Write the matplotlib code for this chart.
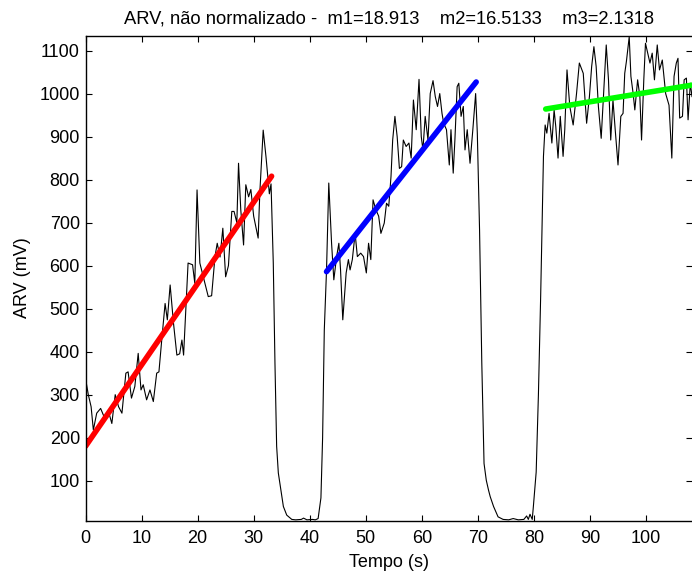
import numpy as np
import matplotlib
matplotlib.use("Agg")
import matplotlib.pyplot as plt

plt.rcParams['font.family'] = ['Liberation Sans', 'DejaVu Sans']

# ---- data ----
time_s = [
    0.0, 0.5, 1.0, 1.4, 2.0, 2.7, 3.3, 4.1, 4.7, 5.3, 5.9, 6.5, 7.2, 7.6, 8.2, 8.8,
    9.4, 9.9, 10.3, 10.9, 11.5, 12.1, 12.7, 13.1, 13.6, 14.2, 14.6, 15.1, 15.7, 16.3,
    16.8, 17.2, 17.5, 17.9, 18.3, 19.1, 19.5, 19.9, 20.4, 21.3, 21.9, 22.5, 23.1, 23.5,
    24.0, 24.5, 25.0, 25.5, 26.1, 26.5, 27.0, 27.3, 27.7, 28.2, 28.6, 29.1, 29.5, 30.0,
    30.8, 31.1, 31.7, 32.2, 32.8, 33.1, 33.5, 33.8, 34.1, 34.4, 35.3, 35.9, 36.8, 37.5,
    38.5, 38.9, 39.5, 40.5, 41.0, 41.5, 42.0, 42.3, 42.6, 43.0, 43.4, 43.9, 44.3, 44.8,
    45.2, 45.5, 45.9, 46.5, 46.9, 47.2, 47.6, 48.1, 48.5, 49.1, 49.6, 50.1, 50.5, 50.9,
    51.3, 51.8, 52.3, 52.7, 53.3, 53.7, 54.1, 54.5, 54.8, 55.2, 55.6, 56.0, 56.4, 56.7,
    57.2, 57.7, 58.1, 58.5, 59.0, 59.5, 59.9, 60.2, 60.6, 61.1, 61.5, 62.0, 62.4, 62.8,
    63.2, 63.6, 63.9, 64.4, 64.9, 65.2, 65.6, 65.9, 66.3, 66.6, 67.0, 67.4, 67.7, 68.1,
    68.6, 69.1, 69.6, 69.9, 70.3, 70.7, 71.1, 71.5, 71.9, 72.2, 72.8, 73.6, 74.5, 75.5,
    76.3, 77.2, 78.2, 78.7, 79.0, 79.3, 79.7, 79.9, 80.4, 80.8, 81.2, 81.7, 82.0, 82.3,
    82.7, 83.2, 83.6, 83.9, 84.3, 84.7, 85.2, 85.5, 85.9, 86.4, 87.0, 87.6, 88.1, 88.8,
    89.4, 89.9, 90.3, 90.7, 91.1, 91.5, 92.0, 92.4, 92.9, 93.3, 93.7, 94.1, 94.5, 95.0,
    95.5, 95.9, 96.2, 96.5, 97.0, 97.3, 97.7, 98.0, 98.5, 98.9, 99.2, 99.6, 99.9, 100.3,
    100.7, 101.1, 101.5, 102.0, 102.4, 102.9, 103.5, 104.1, 104.6, 105.0, 105.4, 105.7,
    106.0, 106.5, 106.8, 107.2, 107.5, 107.9, 108.2,
]
arv_mv = [
    338, 300, 272, 218, 257, 268, 249, 261, 233, 300, 272, 257, 350, 353, 292, 319,
    396, 311, 323, 288, 311, 284, 350, 353, 427, 512, 474, 555, 466, 392,
    395, 427, 392, 497, 606, 602, 559, 776, 606, 559, 528, 530, 621, 652,
    620, 687, 574, 600, 726, 726, 700, 838, 730, 648, 788, 760, 777, 715,
    664, 770, 915, 853, 767, 790, 606, 373, 180, 118, 40, 20, 10, 9,
    10, 13, 9, 10, 9, 12, 60, 200, 450, 590, 792, 652, 567, 621,
    652, 590, 474, 583, 614, 590, 614, 675, 621, 629, 621, 583, 652, 614,
    753, 730, 715, 675, 699, 745, 738, 807, 892, 947, 900, 826, 830, 892,
    877, 885, 850, 985, 916, 1033, 900, 869, 947, 892, 1000, 1030, 993, 970,
    1000, 954, 931, 916, 834, 916, 815, 892, 1016, 1024, 947, 970, 869, 916,
    838, 916, 1000, 908, 683, 373, 140, 101, 78, 63, 40, 16, 10, 9,
    12, 9, 10, 18, 10, 22, 10, 40, 120, 300, 528, 854, 927, 908,
    954, 885, 962, 923, 850, 947, 854, 916, 1055, 970, 927, 1000, 1071, 1047,
    931, 993, 1063, 1109, 1063, 970, 896, 993, 1113, 1032, 892, 985, 916, 834,
    947, 954, 1047, 1075, 1132, 1040, 1000, 962, 1032, 993, 892, 1032, 1117, 1094,
    1071, 1094, 1032, 1113, 1055, 1078, 1000, 973, 850, 1040, 1071, 1082,
    943, 947, 1032, 1036, 939, 1024, 993,
]

# linear fits: slope (from the title), intercept, start and end time
fit_slopes = [18.913, 16.5133, 2.1318]
fit_intercepts = [180.0, -124.1, 789.0]
fit_starts = [0.0, 43.0, 82.1]
fit_ends = [33.2, 69.7, 108.2]
fit_colors = ['#ff0000', '#0000ff', '#00ff00']

x_ticks = [0, 10, 20, 30, 40, 50, 60, 70, 80, 90, 100]
y_ticks = [100, 200, 300, 400, 500, 600, 700, 800, 900, 1000, 1100]

title = 'ARV, não normalizado -  m1=18.913    m2=16.5133    m3=2.1318'

# ---- figure ----
W, H = 692, 574
fig = plt.figure(figsize=(W / 100, H / 100), dpi=100)
left, right, top, bottom = 85.5, 692.0, 35.5, 520.7
ax = fig.add_axes([left / W, 1 - bottom / H, (right - left) / W, (bottom - top) / H])

ax.plot(time_s, arv_mv, color='black', lw=0.8)
for m, b, t0, t1, c in zip(fit_slopes, fit_intercepts, fit_starts, fit_ends, fit_colors):
    tt = np.linspace(t0, t1, 50)
    ax.plot(tt, b + m * tt, color=c, lw=4.0, solid_capstyle='round')

ax.set_xlim(0, 108.2)
ax.set_ylim(7, 1135)
ax.set_xticks(x_ticks)
ax.set_yticks(y_ticks)
ax.tick_params(direction='in', length=4.5, width=0.8, top=True, right=True,
               labelsize=13)
ax.tick_params(axis='y', pad=4)
ax.tick_params(axis='x', pad=7)
for s in ['left', 'bottom', 'top']:
    ax.spines[s].set_linewidth(1.0)
ax.spines['right'].set_visible(False)

ax.set_xlabel('Tempo (s)', fontsize=13, labelpad=5)
ax.set_ylabel('ARV (mV)', fontsize=13, labelpad=6)
ax.set_title(title, fontsize=13.2, pad=9)

fig.savefig('out.png', dpi=100)
